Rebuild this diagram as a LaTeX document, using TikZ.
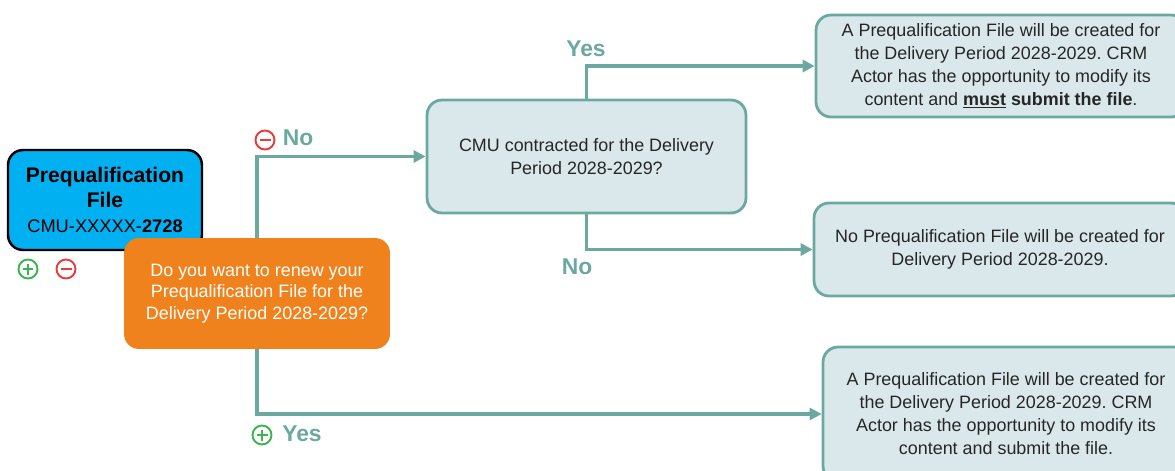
\documentclass[tikz,border=0pt]{standalone}
\usepackage{fontspec}
\setmainfont{Liberation Sans}
\frenchspacing
\usetikzlibrary{arrows.meta}
\definecolor{lineteal}{RGB}{107,169,160}
\definecolor{boxfill}{RGB}{218,232,236}
\definecolor{orangebox}{RGB}{240,130,30}
\definecolor{bluebox}{RGB}{0,176,240}
\definecolor{icongreen}{RGB}{60,180,80}
\definecolor{iconred}{RGB}{230,60,60}
\definecolor{textgray}{RGB}{38,38,38}
\tikzset{
  bodyfont/.style={font=\fontsize{10.2}{13.1}\selectfont},
  resultbox/.style={draw=lineteal, line width=1.6pt, fill=boxfill, rounded corners=0.3cm,
    align=center, text=textgray, bodyfont, inner sep=0pt},
  conn/.style={draw=lineteal, line width=2.2pt, -{Triangle[length=0.24cm,width=0.24cm]}},
  branchlabel/.style={text=lineteal, font=\fontsize{13}{15}\selectfont\bfseries, inner sep=0pt},
  plusicon/.style={circle, draw=icongreen, line width=1.1pt, minimum size=0.38cm, inner sep=0pt,
    path picture={\draw[icongreen, line width=1.1pt]
      ([xshift=-0.11cm]path picture bounding box.center) -- ([xshift=0.11cm]path picture bounding box.center)
      ([yshift=-0.11cm]path picture bounding box.center) -- ([yshift=0.11cm]path picture bounding box.center);}},
  minusicon/.style={circle, draw=iconred, line width=1.1pt, minimum size=0.38cm, inner sep=0pt,
    path picture={\draw[iconred, line width=1.1pt]
      ([xshift=-0.11cm]path picture bounding box.center) -- ([xshift=0.11cm]path picture bounding box.center);}},
}
\begin{document}
\begin{tikzpicture}[x=0.02cm, y=-0.02cm]
\useasboundingbox (0,0) rectangle (1175,470);
\clip (0,0) rectangle (1175,470);

% nodes
\node[draw=black, line width=1.4pt, fill=bluebox, rounded corners=0.3cm,
      minimum width=3.88cm, minimum height=2.0cm, align=center, inner sep=0pt,
      font=\fontsize{12}{14.2}\selectfont]
  (pf) at (105,200)
  {\textbf{Prequalification}\\\textbf{File}\\\fontsize{10.4}{14.2}\selectfont CMU-XXXXX-\textbf{2728}};

\node[plusicon] (pfplus) at (28,269) {};
\node[minusicon] (pfminus) at (66,269) {};

\node[fill=orangebox, rounded corners=0.3cm, minimum width=5.32cm, minimum height=2.22cm,
      align=center, text=white, font=\fontsize{10.2}{12.4}\selectfont, inner sep=0pt]
  (renew) at (257,293.5)
  {Do you want to renew your\\Prequalification File for the\\Delivery Period 2028-2029?};

\node[resultbox, minimum width=6.38cm, minimum height=2.26cm] (cmu) at (586.5,156.5)
  {CMU contracted for the Delivery\\Period 2028-2029?};

\node[resultbox, minimum width=7.4cm, minimum height=2.04cm] (r1) at (1001,66)
  {\raisebox{0pt}[\height][\depth]{}A Prequalification File will be created for\\the Delivery Period 2028-2029. CRM\\Actor has the opportunity to modify its\\content and \textbf{\underline{must} submit the file}.};

\node[resultbox, minimum width=7.44cm, minimum height=1.86cm] (r2) at (1000,249.5)
  {No Prequalification File will be created for\\Delivery Period 2028-2029.};

\node[resultbox, minimum width=7.32cm, minimum height=2.68cm] (r3) at (1006,414)
  {A Prequalification File will be created for\\the Delivery Period 2028-2029. CRM\\Actor has the opportunity to modify its\\content and submit the file.};

% connectors
\draw[conn] (renew.north) |- (cmu.west);
\draw[conn] (renew.south) |- (r3.west);
\draw[conn] (cmu.north) |- (r1.west);
\draw[conn] (cmu.south) |- (r2.west);

% labels
\node[minusicon] (noicon) at (265,140) {};
\node[branchlabel] (nolbl) at (298,138) {No};
\node[plusicon] (yesicon) at (262,435) {};
\node[branchlabel] (yeslbl) at (302,434) {Yes};
\node[branchlabel] (cmuyes) at (586,49) {Yes};
\node[branchlabel] (cmuno) at (577,267) {No};
\end{tikzpicture}
\end{document}
